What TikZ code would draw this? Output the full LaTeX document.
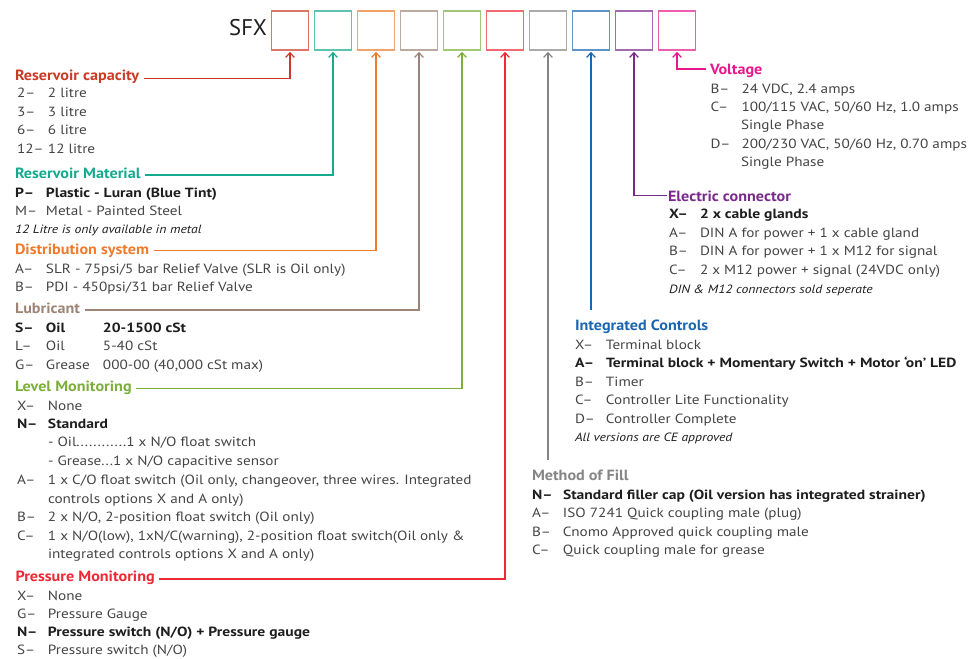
\documentclass[tikz,border=0pt]{standalone}
\usepackage{fontspec}
\setmainfont{PT Sans}
\newfontfamily\rgF[FakeStretch=1.14]{PT Sans}
\newfontfamily\bdF[FakeStretch=1.17]{PT Sans}
\newfontfamily\itF[FakeStretch=1.14]{PT Sans}
\newfontfamily\hdF[FakeStretch=1.09]{PT Sans}
\usetikzlibrary{arrows.meta}
\definecolor{cCap}{HTML}{C93B26}
\definecolor{cMat}{HTML}{17A98E}
\definecolor{cDist}{HTML}{EE7A2B}
\definecolor{cLub}{HTML}{9C8576}
\definecolor{cLev}{HTML}{7CAF3A}
\definecolor{cPres}{HTML}{EC2935}
\definecolor{cFill}{HTML}{858585}
\definecolor{cCtl}{HTML}{1B66B0}
\definecolor{cCon}{HTML}{7A2A8C}
\definecolor{cVolt}{HTML}{E8178A}
\definecolor{txt}{HTML}{444444}
\definecolor{txtb}{HTML}{1E1E1E}
\newcommand{\ky}[2]{\hbox to 23.25pt{#1\hfil}#2}
\begin{document}
\begin{tikzpicture}[x=0.75pt,y=-0.75pt,
  every node/.style={inner sep=0pt, outer sep=0pt},
  hd/.style={anchor=base west, font=\hdF\fontsize{11.1}{12}\selectfont\bfseries, text=#1},
  rw/.style={anchor=base west, font=\rgF\fontsize{10}{11}\selectfont, text=txt},
  rwb/.style={anchor=base west, font=\bdF\fontsize{10}{11}\selectfont\bfseries, text=txtb},
  rwi/.style={anchor=base west, font=\itF\fontsize{9}{10}\selectfont\itshape, text=txtb},
  codebox/.style={draw=#1!70, line width=1.3pt, minimum width=27.75pt, minimum height=29.25pt},
  lead/.style={draw=#1, line width=0.9pt, -{Straight Barb[length=3.5pt,width=6.5pt,line width=0.9pt]}, shorten >=1.4pt}]
\useasboundingbox (0,0) rectangle (971,659);
% title and code boxes
\node[anchor=mid east, font=\fontsize{17}{20}\selectfont, text=txtb] (sfx) at (267,32) {SFX};
\node[codebox=cCap]  (b1)  at (290,30.5) {};
\node[codebox=cMat]  (b2)  at (333,30.5) {};
\node[codebox=cDist] (b3)  at (376,30.5) {};
\node[codebox=cLub]  (b4)  at (419,30.5) {};
\node[codebox=cLev]  (b5)  at (462,30.5) {};
\node[codebox=cPres] (b6)  at (505,30.5) {};
\node[codebox=cFill] (b7)  at (548,30.5) {};
\node[codebox=cCtl]  (b8)  at (591,30.5) {};
\node[codebox=cCon]  (b9)  at (634,30.5) {};
\node[codebox=cVolt] (b10) at (677,30.5) {};

% ---- Reservoir capacity
\node[hd=cCap] (hCap) at (15,80.5) {Reservoir capacity};
\node[rw] (cap1) at (17,97.7) {\ky{2–}{2 litre}};
\node[rw] (cap2) at (17,116.3) {\ky{3–}{3 litre}};
\node[rw] (cap3) at (17,135) {\ky{6–}{6 litre}};
\node[rw] (cap4) at (17,153.7) {\ky{12–}{12 litre}};
% ---- Reservoir material
\node[hd=cMat] (hMat) at (15,178.3) {Reservoir Material};
\node[rwb] (mat1) at (15,197.3) {\ky{P–}{Plastic - Luran (Blue Tint)}};
\node[rw] (mat2) at (15,215.5) {\ky{M–}{Metal - Painted Steel}};
\node[rwi] (mat3) at (15,234) {12 Litre is only available in metal};
% ---- Distribution system
\node[hd=cDist] (hDist) at (15,255) {Distribution system};
\node[rw] (dis1) at (15,273.3) {\ky{A–}{SLR - 75psi/5 bar Relief Valve (SLR is Oil only)}};
\node[rw] (dis2) at (15,291.7) {\ky{B–}{PDI - 450psi/31 bar Relief Valve}};
% ---- Lubricant
\node[hd=cLub] (hLub) at (15,313.3) {Lubricant};
\node[rwb] (lub1) at (15,332.3) {\ky{S–}{\hbox to 42.75pt{Oil\hfil}20-1500 cSt}};
\node[rw] (lub2) at (15,350.7) {\ky{L–}{\hbox to 42.75pt{Oil\hfil}5-40 cSt}};
\node[rw] (lub3) at (15,369.3) {\ky{G–}{\hbox to 42.75pt{Grease\hfil}000-00 (40,000 cSt max)}};
% ---- Level monitoring
\node[hd=cLev] (hLev) at (15,391) {Level Monitoring};
\node[rw] (lev1) at (17,410) {\ky{X–}{None}};
\node[rwb] (lev2) at (17,428.3) {\ky{N–}{Standard}};
\node[rw] (lev3) at (48,446.7) {- Oil............1 x N/O float switch};
\node[rw] (lev4) at (48,465) {- Grease...1 x N/O capacitive sensor};
\node[rw] (lev5) at (17,484.3) {\ky{A–}{1 x C/O float switch (Oil only, changeover, three wires. Integrated}};
\node[rw] (lev6) at (48,503.3) {controls options X and A only)};
\node[rw] (lev7) at (17,521.7) {\ky{B–}{2 x N/O, 2-position float switch (Oil only)}};
\node[rw] (lev8) at (17,540.7) {\ky{C–}{1 x N/O(low), 1xN/C(warning), 2-position float switch(Oil only \&}};
\node[rw] (lev9) at (48,558.7) {integrated controls options X and A only)};
% ---- Pressure monitoring
\node[hd=cPres] (hPres) at (15.5,581.7) {Pressure Monitoring};
\node[rw] (pre1) at (17,600) {\ky{X–}{None}};
\node[rw] (pre2) at (17,618.3) {\ky{G–}{Pressure Gauge}};
\node[rwb] (pre3) at (17,636.3) {\ky{N–}{Pressure switch (N/O) + Pressure gauge}};
\node[rw] (pre4) at (17,654.3) {\ky{S–}{Pressure switch (N/O)}};

% ---- Voltage
\node[hd=cVolt] (hVolt) at (710,75) {Voltage};
\node[rw] (vol1) at (710.5,93.3) {\ky{B–}{24 VDC, 2.4 amps}};
\node[rw] (vol2) at (710.5,111.7) {\ky{C–}{100/115 VAC, 50/60 Hz, 1.0 amps}};
\node[rw] (vol3) at (741,130) {Single Phase};
\node[rw] (vol4) at (710.5,148.3) {\ky{D–}{200/230 VAC, 50/60 Hz, 0.70 amps}};
\node[rw] (vol5) at (741,166.7) {Single Phase};
% ---- Electric connector
\node[hd=cCon] (hCon) at (668,201.7) {Electric connector};
\node[rwb] (con1) at (669,219) {\ky{X–}{2 x cable glands}};
\node[rw] (con2) at (669,237.5) {\ky{A–}{DIN A for power + 1 x cable gland}};
\node[rw] (con3) at (669,256) {\ky{B–}{DIN A for power + 1 x M12 for signal}};
\node[rw] (con4) at (669,274.3) {\ky{C–}{2 x M12 power + signal (24VDC only)}};
\node[rwi] (con5) at (669,293.3) {DIN \& M12 connectors sold seperate};
% ---- Integrated controls
\node[hd=cCtl] (hCtl) at (575,330.7) {Integrated Controls};
\node[rw] (ctl1) at (575,349.3) {\ky{X–}{Terminal block}};
\node[rwb] (ctl2) at (575,367.7) {\ky{A–}{Terminal block + Momentary Switch + Motor ‘on’ LED}};
\node[rw] (ctl3) at (575,386) {\ky{B–}{Timer}};
\node[rw] (ctl4) at (575,404.3) {\ky{C–}{Controller Lite Functionality}};
\node[rw] (ctl5) at (575,423) {\ky{D–}{Controller Complete}};
\node[rwi] (ctl6) at (575,441.3) {All versions are CE approved};
% ---- Method of fill
\node[hd=cFill] (hFill) at (532,480) {Method of Fill};
\node[rwb] (fil1) at (532,499.3) {\ky{N–}{Standard filler cap (Oil version has integrated strainer)}};
\node[rw] (fil2) at (532,517.7) {\ky{A–}{ISO 7241 Quick coupling male (plug)}};
\node[rw] (fil3) at (532,536) {\ky{B–}{Cnomo Approved quick coupling male}};
\node[rw] (fil4) at (532,554.3) {\ky{C–}{Quick coupling male for grease}};

% connector anchor points
\coordinate (eCap)  at ([xshift=3.5pt,yshift=1.5pt]hCap.base east);
\coordinate (eMat)  at ([xshift=3.5pt,yshift=2.4pt]hMat.base east);
\coordinate (eDist) at ([xshift=3.5pt,yshift=3.5pt]hDist.base east);
\coordinate (eLub)  at ([xshift=3.5pt,yshift=2.4pt]hLub.base east);
\coordinate (eLev)  at ([xshift=3.5pt,yshift=2pt]hLev.base east);
\coordinate (ePres) at ([xshift=3.5pt,yshift=2pt]hPres.base east);
\coordinate (eVolt) at ([xshift=-3pt,yshift=4.5pt]hVolt.base west);
\coordinate (eCon)  at ([xshift=-1pt,yshift=4.5pt]hCon.base west);
\coordinate (eCtl)  at (591,310);
\coordinate (eFill) at (548,460);

% connectors
\draw[lead=cCap]  (eCap)  -- (eCap -| b1.south)  -- (b1.south);
\draw[lead=cMat]  (eMat)  -- (eMat -| b2.south)  -- (b2.south);
\draw[lead=cDist] (eDist) -- (eDist -| b3.south) -- (b3.south);
\draw[lead=cLub]  (eLub)  -- (eLub -| b4.south)  -- (b4.south);
\draw[lead=cLev]  (eLev)  -- (eLev -| b5.south)  -- (b5.south);
\draw[lead=cPres] (ePres) -- (ePres -| b6.south) -- (b6.south);
\draw[lead=cFill] (eFill) -- (b7.south);
\draw[lead=cCtl]  (eCtl)  -- (b8.south);
\draw[lead=cCon]  (eCon)  -- (eCon -| b9.south)  -- (b9.south);
\draw[lead=cVolt] (eVolt) -- (eVolt -| b10.south) -- (b10.south);
\end{tikzpicture}
\end{document}
